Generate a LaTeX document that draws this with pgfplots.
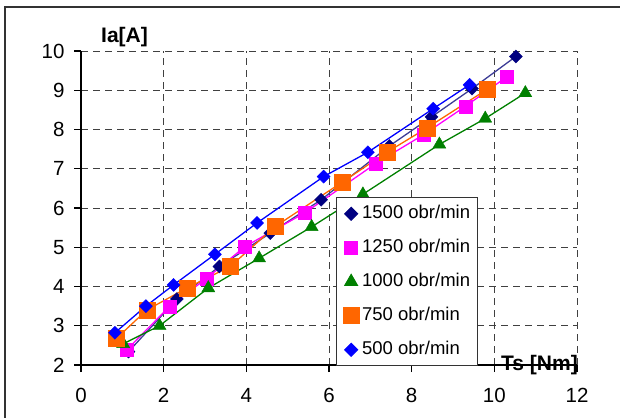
\documentclass[border=0pt]{standalone}
\usepackage{pgfplots}
\pgfplotsset{compat=1.18}
\usepackage{fontspec}
\setmainfont{Liberation Sans}
\definecolor{cnavy}{RGB}{0,0,128}
\definecolor{cnavyline}{RGB}{60,60,150}
\definecolor{cmag}{RGB}{255,0,255}
\definecolor{cgreen}{RGB}{0,128,0}
\definecolor{corange}{RGB}{255,102,0}
\definecolor{cblue}{RGB}{0,0,255}
\begin{document}
\begin{tikzpicture}[x=1pt,y=1pt]
\useasboundingbox (0,0) rectangle (620,417);
\begin{axis}[
  at={(81pt,52pt)}, anchor=south west,
  scale only axis, width=496pt, height=314pt,
  xmin=0, xmax=12, ymin=2, ymax=10,
  xtick={0,2,...,12}, ytick={2,3,...,10},
  axis x line*=bottom, axis y line*=left,
  axis line style={line width=1.8pt, black, -},
  tick align=outside, major tick length=7pt,
  tick style={line width=1.2pt, black},
  grid=major,
  major grid style={line width=1pt, black!75, dash pattern=on 7pt off 5pt},
  /pgf/number format/assume math mode=true,
  ticklabel style={font=\fontsize{20.5}{24}\selectfont},
  xticklabel style={yshift=-13pt},
  yticklabel style={xshift=-6pt},
  clip=false,
  legend style={at={(0.5135,0.534)}, anchor=north west,
    draw=black!80, line width=0.9pt, fill=white,
    font=\fontsize{18.5}{22}\selectfont,
    inner sep=7pt, row sep=16pt,
    nodes={inner sep=0pt, text height=14pt, text depth=4pt},
    /tikz/every odd column/.append style={column sep=3pt}},
  legend cell align=left,
  legend image code/.code={\path (0pt,0pt) (14pt,0pt); \draw[#1, only marks] plot coordinates {(7pt,0pt)};},
]
% 1500
\addplot[color=cnavyline, line width=1.3pt, forget plot] coordinates {(1.15,2.34)(2.32,3.68)(3.35,4.51)(4.58,5.36)(5.81,6.21)(7.46,7.58)(8.48,8.32)(9.46,9.04)(10.52,9.86)};
\addplot[only marks, mark=square*, mark size=4.6pt, mark options={rotate=45, draw=cnavy, fill=cnavy}] coordinates {(1.15,2.34)(2.32,3.68)(3.35,4.51)(4.58,5.36)(5.81,6.21)(7.46,7.58)(8.48,8.32)(9.46,9.04)(10.52,9.86)};
\addlegendentry{1500 obr/min}
% 1250
\addplot[color=cmag, line width=1.3pt, forget plot] coordinates {(1.1,2.38)(2.14,3.49)(3.04,4.21)(3.97,5.02)(5.42,5.88)(7.14,7.14)(8.29,7.87)(9.3,8.59)(10.31,9.35)};
\addplot[only marks, mark=square*, mark size=6.5pt, mark options={draw=cmag, fill=cmag}] coordinates {(1.1,2.38)(2.14,3.49)(3.04,4.21)(3.97,5.02)(5.42,5.88)(7.14,7.14)(8.29,7.87)(9.3,8.59)(10.31,9.35)};
\addlegendentry{1250 obr/min}
% 1000
\addplot[color=cgreen, line width=1.3pt, forget plot] coordinates {(1.02,2.54)(1.9,3.0)(3.08,3.96)(4.31,4.72)(5.58,5.52)(6.82,6.35)(8.67,7.62)(9.78,8.28)(10.75,8.93)};
\addplot[only marks, mark=triangle*, mark size=7.5pt, mark options={draw=cgreen, fill=cgreen}] coordinates {(1.02,2.54)(1.9,3.0)(3.08,3.96)(4.31,4.72)(5.58,5.52)(6.82,6.35)(8.67,7.62)(9.78,8.28)(10.75,8.93)};
\addlegendentry{1000 obr/min}
% 750
\addplot[color=corange, line width=1.3pt, forget plot] coordinates {(0.86,2.68)(1.59,3.4)(2.56,3.96)(3.61,4.51)(4.7,5.53)(6.32,6.66)(7.4,7.42)(8.37,8.04)(9.82,9.02)};
\addplot[only marks, mark=square*, mark size=8pt, mark options={draw=corange, fill=corange}] coordinates {(0.86,2.68)(1.59,3.4)(2.56,3.96)(3.61,4.51)(4.7,5.53)(6.32,6.66)(7.4,7.42)(8.37,8.04)(9.82,9.02)};
\addlegendentry{750 obr/min}
% 500
\addplot[color=cblue, line width=1.3pt, forget plot] coordinates {(0.82,2.82)(1.57,3.5)(2.24,4.04)(3.24,4.82)(4.26,5.62)(5.87,6.8)(6.94,7.42)(8.52,8.53)(9.4,9.14)};
\addplot[only marks, mark=square*, mark size=4.6pt, mark options={rotate=45, draw=cblue, fill=cblue}] coordinates {(0.82,2.82)(1.57,3.5)(2.24,4.04)(3.24,4.82)(4.26,5.62)(5.87,6.8)(6.94,7.42)(8.52,8.53)(9.4,9.14)};
\addlegendentry{500 obr/min}
\end{axis}
\node[anchor=west, font=\bfseries\fontsize{21}{24}\selectfont, inner sep=0pt] at (101,380) {Ia[A]};
\node[anchor=east, font=\bfseries\fontsize{21}{24}\selectfont, inner sep=0pt] at (578,52) {Ts [Nm]};
\draw[line width=1.5pt, black!80] (5,-20) -- (5,410) -- (640,410);
\end{tikzpicture}
\end{document}
